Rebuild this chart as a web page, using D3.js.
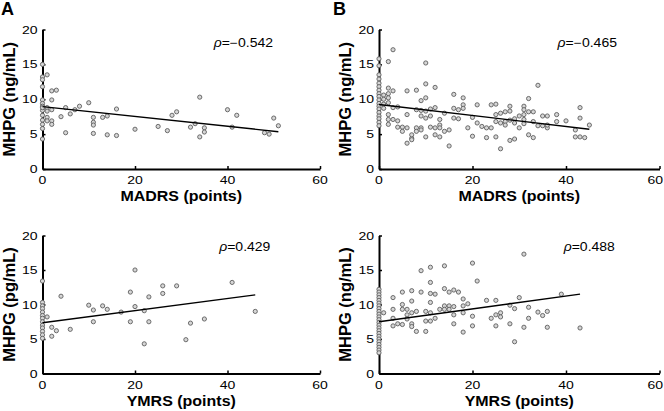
<!DOCTYPE html>
<html><head><meta charset="utf-8">
<script src="https://cdn.jsdelivr.net/npm/d3@7"></script>
<style>body{margin:0;background:#fff}svg{display:block}</style>
</head><body><svg id="c" width="664" height="411"></svg>
<script>
// ---------- data ----------
const xTicks = [0, 20, 40, 60];
const yTicks = [0, 5, 10, 15, 20];

// Panel A: MADRS vs MHPG (ng/mL)
const pointsA = [[0,15.0],[0,13.2],[0,12.8],[1,13.5],[0,11.8],[2,11.2],[3,11.3],[2,9.9],[0,9.9],[0,9.4],[1,8.8],[1,8.3],[2,8.5],[0,8.4],[0,7.7],[1,7.4],[0,7.0],[1,6.9],[2,6.9],[2,6.4],[0,6.4],[0,5.8],[0,4.3],[0,9.0],[0,8.8],
[4,7.5],[5,8.8],[5,5.2],[6,7.9],[7,8.5],[8,9.0],[10,9.5],[11,7.4],[11,6.7],[11,6.3],[11,5.1],[13,7.4],[14,7.6],[14,4.9],[16,8.6],[16,4.8],[20,5.7],[25,6.1],[27,5.5],[28,7.7],[29,8.2],[32,6.0],[33,6.5],[34,10.3],[34,4.6],[35,5.9],[35,5.3],[40,8.5],[41,6.0],[42,7.7],[48,5.2],[49,5.0],[50,7.3],[51,6.2]];

// Panel B: MADRS vs MHPG (ng/mL)
const pointsB = [[0,15.8],[0,14.8],[0,13.5],[0,12.9],[0,12.3],[0,11.8],[0,11.3],[0,10.8],[0,10.4],[0,9.9],[0,9.4],[0,9.0],[0,8.6],[0,8.1],[0,7.6],[0,7.2],[0,6.7],[0,6.2],
[1,10.6],[1,10.0],[1,9.3],[1,8.7],[2,15.4],[2,11.6],[2,10.8],[2,10.2],[2,9.5],[2,7.8],[2,7.1],[2,6.4],[3,17.1],[3,11.2],[3,8.8],[3,7.1],[4,8.9],[4,6.9],[4,6.0],[5,6.0],[5,5.4],
[6,11.2],[6,7.8],[6,5.9],[6,3.7],[7,4.4],[7,4.9],[7,4.2],[8,11.3],[8,8.5],[8,5.9],[8,5.4],[9,9.8],[9,5.9],[9,5.6],[9,7.6],[9,8.4],[10,15.2],[10,12.2],[10,10.2],[10,8.3],[10,7.3],[10,4.6],
[11,7.6],[11,6.0],[11,8.6],[12,11.7],[12,8.8],[12,5.9],[12,4.9],[13,7.1],[13,6.3],[13,5.9],[13,4.6],[14,5.4],[14,8.0],[15,5.6],[15,3.3],[16,10.7],[16,8.7],[16,7.3],[17,8.5],[17,7.2],
[18,10.2],[18,9.2],[18,8.7],[19,5.9],[20,7.4],[20,4.7],[21,9.2],[21,6.6],[22,6.1],[23,5.9],[23,4.5],[24,5.9],[24,9.2],[25,9.3],[25,7.8],[25,4.6],[25,6.8],[26,6.6],[26,2.9],[26,8.0],
[27,8.2],[27,6.8],[27,6.3],[28,9.0],[28,8.3],[28,4.1],[28,7.0],[29,4.3],[29,7.2],[29,6.6],[30,7.6],[30,5.9],[31,9.0],[31,8.5],[31,7.8],[31,7.1],[31,6.5],[32,10.1],[32,4.9],[32,8.2],
[33,8.2],[33,6.8],[33,4.5],[34,12.0],[34,6.2],[35,7.6],[35,6.2],[36,7.6],[36,5.9],[36,6.3],[38,7.8],[38,6.8],[40,6.9],[42,5.6],[42,4.6],[43,8.8],[43,7.3],[43,4.6],[44,4.5],[45,6.3]];

// Panel C: YMRS vs MHPG (pg/mL)
const pointsC = [[0,13.4],[0,10.3],[0,9.8],[0,9.4],[0,8.9],[0,8.4],[0,8.0],[0,7.5],[0,7.0],[0,6.6],[0,6.1],[0,5.6],[0,5.1],
[1,8.2],[2,6.7],[2,5.4],[3,6.2],[4,11.2],[6,6.4],[10,9.9],[11,9.2],[11,7.5],[13,9.8],[14,9.3],[17,8.9],[19,11.8],[19,7.5],[20,15.0],[20,9.7],[22,9.1],[22,4.3],[23,11.1],[23,7.5],
[26,12.7],[26,11.6],[29,12.7],[31,4.9],[32,7.3],[35,7.9],[41,13.2],[46,9.0]];

// Panel D: YMRS vs MHPG (ng/mL)
const pointsD = [[0,12.2],[0,11.8],[0,11.4],[0,11.0],[0,10.6],[0,10.2],[0,9.8],[0,9.4],[0,9.0],[0,8.6],[0,8.2],[0,7.8],[0,7.4],[0,7.0],[0,6.6],[0,6.2],[0,5.8],[0,5.4],[0,5.0],[0,4.6],[0,4.2],[0,3.8],[0,3.4],[0,3.0],
[1,8.8],[3,11.0],[3,9.3],[3,8.0],[3,6.9],[4,7.2],[5,11.8],[5,10.0],[5,9.3],[5,7.1],[6,9.3],[6,8.5],[6,7.9],[7,12.0],[7,10.5],[7,8.8],[7,7.2],[7,6.8],[8,9.0],[8,6.1],[9,11.8],[9,14.9],
[10,9.0],[10,7.6],[10,6.1],[11,15.4],[11,13.2],[11,11.6],[11,10.3],[11,8.8],[11,7.6],[12,11.5],[12,8.0],[13,9.3],[14,15.6],[14,12.3],[14,9.8],[14,9.3],[15,11.8],[15,9.8],[15,9.3],
[16,12.1],[16,9.7],[16,8.5],[16,7.2],[17,11.8],[18,10.8],[18,9.8],[18,8.8],[18,6.0],[19,10.1],[20,16.0],[20,8.3],[20,6.9],[21,13.4],[23,10.6],[24,8.0],[25,10.6],[25,8.5],[25,6.9],
[26,8.8],[26,8.2],[28,9.9],[28,7.2],[29,9.4],[29,4.6],[30,11.0],[31,17.3],[31,6.7],[32,9.6],[32,8.0],[34,8.9],[35,8.4],[36,9.0],[36,6.7],[39,11.5],[43,6.6]];

// regression line end points
const fitA = [[0,8.95],[51,5.35]];
const fitB = [[0,9.25],[45,5.7]];
const fitC = [[0,7.35],[46,11.4]];
const fitD = [[0,7.5],[43,11.5]];

const rhoValues = ["=\u22120.542", "=\u22120.465", "=0.429", "=0.488"];
const panelLetters = ["A", "B"];
const xLabels = ["MADRS (points)", "MADRS (points)", "YMRS (points)", "YMRS (points)"];
const yLabels = ["MHPG (ng/mL)", "MHPG (ng/mL)", "MHPG (pg/mL)", "MHPG (ng/mL)"];

// ---------- layout ----------
const panels = [
  {pts: pointsA, fit: fitA, rho: rhoValues[0], xl: xLabels[0], yl: yLabels[0], xr: [42.5, 320], yr: [169, 29.5], ylx: 15, rhoPos: [37, 17.5]},
  {pts: pointsB, fit: fitB, rho: rhoValues[1], xl: xLabels[1], yl: yLabels[1], xr: [379, 659.5], yr: [169, 29.5], ylx: 350.5, rhoPos: [38.2, 17.5]},
  {pts: pointsC, fit: fitC, rho: rhoValues[2], xl: xLabels[2], yl: yLabels[2], xr: [42.5, 320], yr: [373.5, 235.5], ylx: 15, rhoPos: [38.2, 17.75]},
  {pts: pointsD, fit: fitD, rho: rhoValues[3], xl: xLabels[3], yl: yLabels[3], xr: [379, 659.5], yr: [373.5, 235.5], ylx: 350.5, rhoPos: [39.5, 17.75]}
];

const W = 664;
const svg = d3.select("#c");
const FONT = "'Liberation Sans', Arial, Helvetica, sans-serif";

function htext(g, x, y, str, size, opts = {}) {
  const t = g.append("text")
    .attr("transform", `translate(${x},${y}) scale(1,${opts.sy || 1})`)
    .attr("font-family", FONT).attr("font-size", size)
    .attr("font-weight", opts.bold ? "bold" : "normal")
    .attr("text-anchor", opts.anchor || "start")
    .attr("fill", "#000");
  t.text(str);
  return t;
}

panels.forEach((p, i) => {
  const g = svg.append("g");
  const x = d3.scaleLinear().domain([0, 60]).range(p.xr);
  const y = d3.scaleLinear().domain([0, 20]).range(p.yr);

  // axes (MATLAB-like, inward ticks)
  const ax = g.append("g").attr("transform", `translate(0,${p.yr[0]})`)
    .call(d3.axisBottom(x).tickValues(xTicks).tickSizeInner(-3).tickSizeOuter(0).tickFormat(""));
  const ay = g.append("g").attr("transform", `translate(${p.xr[0]},0)`)
    .call(d3.axisLeft(y).tickValues(yTicks).tickSizeInner(-3).tickSizeOuter(0).tickFormat(""));
  [ax, ay].forEach(a => {
    a.select(".domain").attr("stroke", "#000").attr("stroke-width", 2);
    a.selectAll(".tick line").attr("stroke", "#000").attr("stroke-width", 1.5);
  });

  // tick labels (keep the last one inside the page)
  xTicks.forEach(v => {
    const cx = x(v);
    if (cx + 8 > W) htext(g, W - 1, p.yr[0] + 15, String(v), 14, {anchor: "end", sy: 0.82});
    else htext(g, cx, p.yr[0] + 15, String(v), 14, {anchor: "middle", sy: 0.82});
  });
  yTicks.forEach(v => htext(g, p.xr[0] - 5, y(v) + 4.1, String(v), 14, {anchor: "end", sy: 0.82}));

  // points
  g.append("g").selectAll("circle").data(p.pts).join("circle")
    .attr("cx", d => x(d[0])).attr("cy", d => y(d[1])).attr("r", 2.1)
    .attr("fill", "#d6d6d6").attr("stroke", "#5e5e5e").attr("stroke-width", 0.9);

  // regression line
  g.append("path").datum(p.fit)
    .attr("d", d3.line().x(d => x(d[0])).y(d => y(d[1])))
    .attr("fill", "none").attr("stroke", "#000").attr("stroke-width", 1.4);

  // rho annotation
  const rt = g.append("text")
    .attr("transform", `translate(${x(p.rhoPos[0])},${y(p.rhoPos[1])}) scale(1,0.85)`)
    .attr("font-family", FONT).attr("font-size", 14).attr("fill", "#000");
  rt.append("tspan").attr("font-style", "italic").text("\u03C1");
  rt.append("tspan").text(p.rho);

  // axis titles
  htext(g, (p.xr[0] + p.xr[1]) / 2, p.yr[0] + 32, p.xl, 16, {bold: true, anchor: "middle", sy: 0.87});
  g.append("text")
    .attr("transform", `translate(${p.ylx},${(p.yr[0] + p.yr[1]) / 2}) rotate(-90)`)
    .attr("font-family", FONT).attr("font-size", 16.5).attr("font-weight", "bold")
    .attr("text-anchor", "middle").attr("fill", "#000").text(p.yl);
});

// panel letters
htext(svg, 1, 15, panelLetters[0], 18, {bold: true});
htext(svg, 333, 15, panelLetters[1], 18, {bold: true});
</script>
</body></html>
